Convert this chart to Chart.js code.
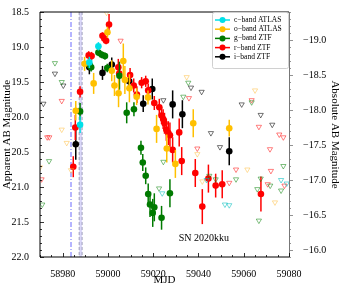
<!DOCTYPE html>
<html lang="en">
<head>
<meta charset="UTF-8">
<title>SN 2020kku</title>
<script src="https://cdn.jsdelivr.net/npm/chart.js@4.4.1/dist/chart.umd.min.js"></script>
<style>
  body { margin: 0; background: #fff; }
  canvas { display: block; }
</style>
</head>
<body>
<canvas id="lc" width="341" height="289"></canvas>
<script>
// distance modulus linking apparent and absolute magnitude axes
const DM = 37.9;

const mjdTicks = [58980, 59000, 59020, 59040, 59060, 59080];
const appTicks = [18.5, 19.0, 19.5, 20.0, 20.5, 21.0, 21.5, 22.0];
const absTicks = [-19.0, -18.5, -18.0, -17.5, -17.0, -16.5, -16.0];

// detections: [mjd], [mag], [err]
const cMjd = [58987.7, 58991.8, 58995.8];
const cMag = [20.11, 19.22, 18.99];
const cErr = [0.12, 0.08, 0.06];

const oMjd = [58985.8, 58989.7, 58993.7, 58999.8, 59001.7, 59002.9, 59004.7, 59006.8, 59007.5, 59009.5, 59012.7, 59017.7, 59021.5, 59026.0, 59029.8, 59037.7, 59053.6];
const oMag = [19.91, 19.24, 19.52, 18.79, 19.34, 19.55, 19.66, 19.20, 19.47, 19.59, 19.71, 19.72, 20.17, 20.45, 20.67, 20.09, 20.16];
const oErr = [0.14, 0.10, 0.15, 0.08, 0.15, 0.15, 0.20, 0.25, 0.20, 0.20, 0.12, 0.10, 0.20, 0.20, 0.20, 0.20, 0.12];

const gMjd = [58987.7, 58992.0, 58992.6, 58995.8, 58997.3, 58998.7, 58999.7, 59005.1, 59008.3, 59011.5, 59014.6, 59015.4, 59016.7, 59017.8, 59018.6, 59019.8, 59020.5, 59023.7, 59027.4];
const gMag = [19.92, 19.26, 19.29, 19.08, 19.11, 19.13, 19.30, 19.41, 19.94, 19.89, 20.44, 20.65, 20.84, 21.10, 21.25, 21.37, 21.29, 21.44, 21.09];
const gErr = [0.12, 0.06, 0.06, 0.05, 0.05, 0.05, 0.06, 0.20, 0.15, 0.10, 0.10, 0.12, 0.12, 0.15, 0.18, 0.20, 0.20, 0.17, 0.20];

const rMjd = [58984.7, 58985.6, 58987.7, 58991.5, 58992.8, 58997.6, 58998.4, 58999.2, 59000.5, 59004.6, 59005.0, 59009.8, 59011.4, 59012.8, 59014.9, 59016.7, 59017.8, 59020.5, 59022.7, 59023.7, 59024.4, 59025.0, 59025.8, 59026.7, 59027.4, 59028.6, 59031.5, 59032.6, 59038.6, 59041.7, 59044.4, 59047.6, 59050.5, 59067.6];
const rMag = [20.71, 20.15, 19.64, 19.12, 19.13, 18.84, 18.88, 18.91, 18.68, 19.29, 19.38, 19.40, 19.55, 19.68, 19.51, 19.49, 19.62, 19.80, 19.86, 19.98, 20.03, 20.09, 20.18, 20.23, 20.26, 20.47, 20.22, 20.63, 20.80, 21.28, 20.88, 20.98, 20.96, 21.10];
const rErr = [0.15, 0.18, 0.08, 0.06, 0.06, 0.05, 0.05, 0.05, 0.15, 0.12, 0.12, 0.10, 0.10, 0.12, 0.08, 0.08, 0.10, 0.10, 0.12, 0.12, 0.14, 0.15, 0.16, 0.17, 0.18, 0.18, 0.20, 0.20, 0.20, 0.25, 0.20, 0.17, 0.20, 0.25];

const iMjd = [58985.8, 58991.8, 58997.6, 59001.7, 59009.4, 59015.6, 59019.6, 59028.6, 59032.9, 59053.6];
const iMag = [20.39, 19.29, 19.37, 19.25, 19.49, 19.81, 19.60, 19.82, 19.96, 20.49];
const iErr = [0.22, 0.10, 0.10, 0.10, 0.12, 0.12, 0.15, 0.20, 0.20, 0.20];

// upper limits
const ulcMjd = [59024.0, 59043.6, 59051.7, 59053.6, 59076.5, 59079.0];
const ulcMag = [21.09, 20.90, 21.25, 21.26, 20.90, 20.95];
const uloMjd = [58970.0, 58979.6, 58981.8, 58983.7, 58999.4, 59034.8, 59039.5, 59041.7, 59061.6, 59065.0, 59073.8];
const uloMag = [20.72, 20.18, 20.37, 20.76, 18.51, 19.43, 20.53, 20.92, 20.75, 19.62, 21.22];
const ulgMjd = [58971.0, 58974.0, 58976.6, 58979.6, 59022.6, 59024.5, 59033.3, 59035.5, 59044.8, 59047.6, 59056.6, 59063.5, 59066.7, 59066.0, 59067.5, 59071.7, 59077.5, 59076.5];
const ulgMag = [21.25, 20.63, 19.23, 19.50, 21.02, 20.64, 19.71, 19.51, 20.84, 20.89, 20.89, 19.79, 21.48, 21.03, 20.88, 20.98, 20.70, 21.05];
const ulrMjd = [58970.7, 58973.2, 58974.1, 58979.6, 59005.6, 59035.8, 59039.5, 59053.6, 59056.6, 59063.5, 59066.7, 59070.6, 59071.6, 59072.0, 59075.7, 59077.5, 59078.0];
const ulrMag = [20.89, 20.29, 20.29, 19.77, 18.91, 19.73, 20.45, 20.94, 20.75, 19.76, 20.14, 20.96, 20.46, 20.77, 20.25, 20.29, 20.98];
const uliMjd = [58971.5, 58976.6, 58980.3, 59024.5, 59036.7, 59041.4, 59045.5, 59049.5, 59059.1, 59067.5, 59072.6];
const uliMag = [19.81, 19.38, 19.55, 19.76, 19.58, 19.64, 20.23, 20.43, 19.82, 19.97, 20.11];

// explosion epoch line and discovery band
const explLine = 58983.7;
const discBand = [58987.3, 58988.6];

const serif = "'Liberation Serif', 'DejaVu Serif', serif";

function pts(xs, ys) {
    return xs.map((x, i) => ({x: x, y: ys[i]}));
}

function limits(label, xs, ys, color) {
    return {
        label: label,
        data: pts(xs, ys),
        pointStyle: 'triangle',
        rotation: 180,
        pointRadius: 3,
        pointBorderWidth: 1,
        borderColor: color,
        backgroundColor: 'rgba(0,0,0,0)',
        showLine: false,
        isLimit: true
    };
}

function band(label, xs, ys, errs, color) {
    return {
        label: label,
        data: pts(xs, ys),
        err: errs,
        pointStyle: 'circle',
        pointRadius: 3.3,
        pointBorderWidth: 0,
        borderColor: color,
        backgroundColor: color,
        showLine: false
    };
}

const datasets = [
    limits('c ul', ulcMjd, ulcMag, 'rgba(0,190,190,0.55)'),
    limits('o ul', uloMjd, uloMag, 'rgba(255,190,60,0.5)'),
    limits('g ul', ulgMjd, ulgMag, 'rgba(0,128,0,0.5)'),
    limits('r ul', ulrMjd, ulrMag, 'rgba(255,0,0,0.5)'),
    limits('i ul', uliMjd, uliMag, 'rgba(0,0,0,0.55)'),
    band('c\u2212band ATLAS', cMjd, cMag, cErr, '#00e0e8'),
    band('o\u2212band ATLAS', oMjd, oMag, oErr, '#ffc000'),
    band('g\u2212band ZTF', gMjd, gMag, gErr, '#007a00'),
    band('r\u2212band ZTF', rMjd, rMag, rErr, '#ff0000'),
    band('i\u2212band ZTF', iMjd, iMag, iErr, '#000000')
];

const decor = {
    id: 'decor',
    beforeDatasetsDraw(chart) {
        const ctx = chart.ctx, a = chart.chartArea, x = chart.scales.x;
        ctx.save();
        // discovery band
        const b0 = x.getPixelForValue(discBand[0]), b1 = x.getPixelForValue(discBand[1]);
        ctx.fillStyle = 'rgba(150,140,235,0.35)';
        ctx.fillRect(b0, a.top, b1 - b0, a.bottom - a.top);
        ctx.strokeStyle = 'rgba(140,140,170,0.8)';
        ctx.lineWidth = 1;
        ctx.setLineDash([3, 2]);
        [b0, b1].forEach(p => {
            ctx.beginPath(); ctx.moveTo(p, a.top); ctx.lineTo(p, a.bottom); ctx.stroke();
        });
        // explosion line, dash-dot
        const lx = x.getPixelForValue(explLine);
        ctx.strokeStyle = 'rgba(80,80,255,0.85)';
        ctx.setLineDash([5, 2, 1, 2]);
        ctx.beginPath(); ctx.moveTo(lx, a.top); ctx.lineTo(lx, a.bottom); ctx.stroke();
        ctx.restore();
    },
    beforeDatasetDraw(chart, args) {
        const ds = chart.data.datasets[args.index];
        if (!ds.err) return;
        const ctx = chart.ctx, x = chart.scales.x, y = chart.scales.y;
        ctx.save();
        ctx.strokeStyle = ds.borderColor;
        ctx.lineWidth = 1.5;
        ds.data.forEach((p, i) => {
            const px = x.getPixelForValue(p.x);
            ctx.beginPath();
            ctx.moveTo(px, y.getPixelForValue(p.y - ds.err[i]));
            ctx.lineTo(px, y.getPixelForValue(p.y + ds.err[i]));
            ctx.stroke();
        });
        ctx.restore();
    },
    afterDraw(chart) {
        const ctx = chart.ctx, a = chart.chartArea;
        const x = chart.scales.x, y = chart.scales.y, y2 = chart.scales.y2;
        ctx.save();
        // frame
        ctx.strokeStyle = '#000';
        ctx.lineWidth = 1;
        ctx.beginPath();
        ctx.moveTo(a.right, a.top); ctx.lineTo(a.left, a.top);
        ctx.lineTo(a.left, a.bottom); ctx.lineTo(a.right, a.bottom);
        ctx.stroke();
        ctx.strokeStyle = '#777';
        ctx.beginPath(); ctx.moveTo(a.right + 0.5, a.top); ctx.lineTo(a.right + 0.5, a.bottom); ctx.stroke();

        // ticks, inward on left and bottom
        ctx.strokeStyle = '#000';
        ctx.lineWidth = 0.8;
        for (let v = 58970; v <= 59080; v += 5) {
            const px = Math.round(x.getPixelForValue(v)) + 0.5;
            const len = mjdTicks.includes(v) ? 4 : 2;
            ctx.beginPath(); ctx.moveTo(px, a.bottom); ctx.lineTo(px, a.bottom - len); ctx.stroke();
        }
        for (let k = 185; k <= 220; k++) {
            const v = k / 10;
            const py = Math.round(y.getPixelForValue(v)) + 0.5;
            const len = k % 5 === 0 ? 4 : 2;
            ctx.beginPath(); ctx.moveTo(a.left, py); ctx.lineTo(a.left + len, py); ctx.stroke();
        }
        // right axis ticks point outward
        ctx.strokeStyle = '#777';
        for (let k = -194; k <= -159; k++) {
            const v = k / 10;
            const py = Math.round(y2.getPixelForValue(v)) + 0.5;
            const len = k % 5 === 0 ? 4 : 2;
            ctx.beginPath(); ctx.moveTo(a.right, py); ctx.lineTo(a.right + len, py); ctx.stroke();
        }

        // legend
        const lx = 212, ly = 12, lw = 76, lh = 56;
        ctx.fillStyle = 'rgba(255,255,255,0.85)';
        ctx.strokeStyle = '#d0d0d0';
        ctx.lineWidth = 1;
        ctx.beginPath();
        ctx.roundRect(lx + 0.5, ly + 0.5, lw, lh, 2);
        ctx.fill(); ctx.stroke();
        ctx.font = '7.5px ' + serif;
        ctx.textBaseline = 'middle';
        const bands = chart.data.datasets.filter(d => !d.isLimit);
        bands.forEach((d, i) => {
            const ey = ly + 8 + i * 9.2;
            ctx.strokeStyle = d.borderColor;
            ctx.lineWidth = 1.5;
            ctx.beginPath(); ctx.moveTo(lx + 3, ey); ctx.lineTo(lx + 18, ey); ctx.stroke();
            ctx.fillStyle = d.backgroundColor;
            ctx.beginPath(); ctx.arc(lx + 10.5, ey, 3, 0, Math.PI * 2); ctx.fill();
            ctx.fillStyle = '#000';
            ctx.fillText(d.label, lx + 22, ey);
        });

        // object name
        ctx.font = '10px ' + serif;
        ctx.fillStyle = '#000';
        ctx.textAlign = 'center';
        ctx.fillText('SN 2020kku', x.getPixelForValue(59042.4), y.getPixelForValue(21.74));
        ctx.restore();
    }
};

function setTicks(list) {
    return scale => { scale.ticks = list.map(v => ({value: v})); };
}

const tickFont = {family: serif, size: 10};
const titleFont = {family: serif, size: 11};

new Chart(document.getElementById('lc'), {
    type: 'scatter',
    data: {datasets: datasets},
    plugins: [decor],
    options: {
        responsive: false,
        animation: false,
        layout: {padding: {top: 9, left: 0, right: 0, bottom: 0}},
        plugins: {
            legend: {display: false},
            tooltip: {enabled: false}
        },
        scales: {
            x: {
                type: 'linear',
                position: 'bottom',
                min: 58970,
                max: 59080,
                afterBuildTicks: setTicks(mjdTicks),
                afterFit: s => { s.height = 32; },
                grid: {display: false},
                border: {display: false},
                ticks: {font: tickFont, color: '#000', padding: 3, maxRotation: 0, callback: v => String(v)},
                title: {display: true, text: 'MJD', font: titleFont, color: '#000', padding: {top: 0, bottom: 2}}
            },
            y: {
                type: 'linear',
                position: 'left',
                reverse: true,
                min: 18.5,
                max: 22.0,
                afterBuildTicks: setTicks(appTicks),
                afterFit: s => { s.width = 40; },
                grid: {display: false},
                border: {display: false},
                ticks: {font: tickFont, color: '#000', padding: 3, callback: v => v.toFixed(1)},
                title: {display: true, text: 'Apparent AB Magnitude', font: titleFont, color: '#000', padding: {top: 1, bottom: 0}}
            },
            y2: {
                type: 'linear',
                position: 'right',
                reverse: true,
                min: 18.5 - DM,
                max: 22.0 - DM,
                afterBuildTicks: setTicks(absTicks),
                afterFit: s => { s.width = 52; },
                grid: {display: false},
                border: {display: false},
                ticks: {font: tickFont, color: '#000', padding: 6, callback: v => (v < 0 ? '\u2212' : '') + Math.abs(v).toFixed(1)},
                title: {display: true, text: 'Absolute AB Magnitude', font: titleFont, color: '#000', padding: {top: 0, bottom: 2}}
            }
        }
    }
});
</script>
</body>
</html>
